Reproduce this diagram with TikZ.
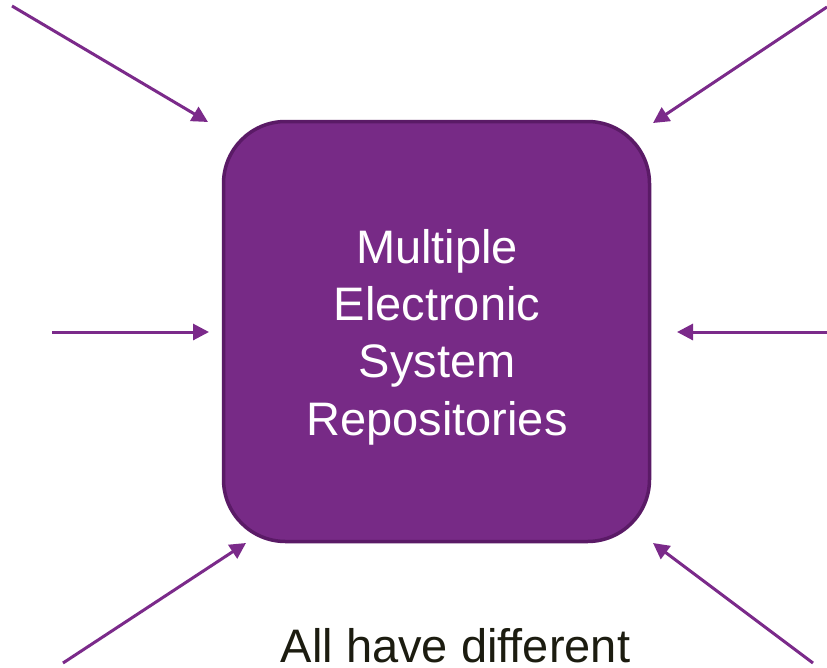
\documentclass[tikz,border=0pt]{standalone}
\usepackage{fontspec}
\setmainfont{Liberation Sans}
\usetikzlibrary{arrows.meta}
\definecolor{boxfill}{HTML}{772A86}
\definecolor{boxedge}{HTML}{5A1A66}
\definecolor{arrowcol}{HTML}{7B2A8A}
\definecolor{capcol}{HTML}{1C1C10}
\tikzset{
  repo/.style={draw=boxedge, fill=boxfill, line width=3.5pt, rounded corners=62pt,
    minimum width=426pt, minimum height=420pt, inner sep=0pt},
  inlabel/.style={text=white, font=\fontsize{47}{57}\selectfont, anchor=base, inner sep=0pt},
  caption/.style={text=capcol, font=\fontsize{47}{57}\selectfont, anchor=base, inner sep=0pt},
  feed/.style={draw=arrowcol, line width=3pt, -{Triangle[length=16pt,width=16pt]}}
}
\begin{document}
\begin{tikzpicture}[x=1pt, y=-1pt]
  \useasboundingbox (0,0) rectangle (827,667);
  \fill[white] (0,0) rectangle (827,667);

  % central repository block
  \node[repo] (repo) at (436.5,331.5) {};
  \node[inlabel] (l1) at (437,263) {Multiple};
  \node[inlabel] (l2) at (437,320) {Electronic};
  \node[inlabel] (l3) at (437,377) {System};
  \node[inlabel] (l4) at (437,435) {Repositories};

  % incoming feeds: start points and tips
  \coordinate (s1) at (12,6);     \coordinate (t1) at (208,122);
  \coordinate (s2) at (827,7);    \coordinate (t2) at (653,123);
  \coordinate (s3) at (52,332);   \coordinate (t3) at (209,332);
  \coordinate (s4) at (827,332);  \coordinate (t4) at (677,332);
  \coordinate (s5) at (63,663);   \coordinate (t5) at (246,543);
  \coordinate (s6) at (813,663);  \coordinate (t6) at (653,543);

  \draw[feed] (s1) -- (t1);
  \draw[feed] (s2) -- (t2);
  \draw[feed] (s3) -- (t3);
  \draw[feed] (s4) -- (t4);
  \draw[feed] (s5) -- (t5);
  \draw[feed] (s6) -- (t6);

  % caption below the block
  \node[caption] (cap) at (455.5,662) {All have different};
\end{tikzpicture}
\end{document}
